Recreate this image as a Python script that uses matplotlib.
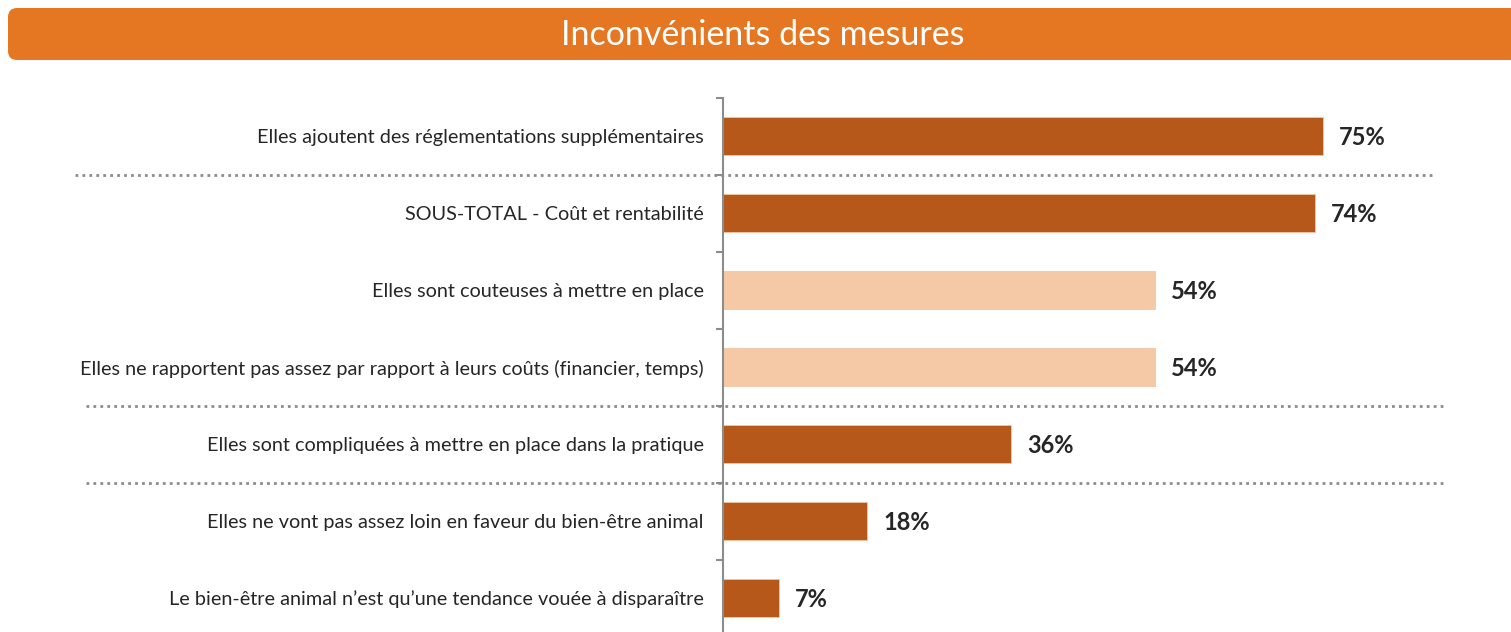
import matplotlib.pyplot as plt
from matplotlib.patches import FancyBboxPatch
import matplotlib.transforms as mtransforms

plt.rcParams['font.family'] = ['Lato', 'DejaVu Sans']

title = "Inconvénients des mesures"
categories = [
    "Elles ajoutent des réglementations supplémentaires",
    "SOUS-TOTAL - Coût et rentabilité",
    "Elles sont couteuses à mettre en place",
    "Elles ne rapportent pas assez par rapport à leurs coûts (financier, temps)",
    "Elles sont compliquées à mettre en place dans la pratique",
    "Elles ne vont pas assez loin en faveur du bien-être animal",
    "Le bien-être animal n\u2019est qu\u2019une tendance vouée à disparaître",
]
values = [75, 74, 54, 54, 36, 18, 7]
is_detail = [False, False, True, True, False, False, False]
separators_after = [0, 3, 4]

DARK = '#B5581A'
LIGHT = '#F5C9A6'
HEADER = '#E67722'
TEXT = '#262626'
GRID = '#8C8C8C'

W, H = 1511, 632
fig = plt.figure(figsize=(W / 100, H / 100), dpi=100)

# header band
hdr = FancyBboxPatch((8 / W, 1 - 60 / H), 1.0, 52 / H,
                     boxstyle="round,pad=0,rounding_size=0.006",
                     transform=fig.transFigure, facecolor=HEADER,
                     edgecolor='none', mutation_aspect=W / H)
fig.patches.append(hdr)
fig.text(763 / W, 1 - 35 / H, title, color='white', fontsize=24.5,
         ha='center', va='center')

# plot area: x scale 8 px per %, rows 77 px tall
left_px, top_px = 723, 97.5
row_px = 77
n = len(categories)
ax = fig.add_axes([left_px / W, 1 - (top_px + n * row_px) / H,
                   (W - left_px) / W, n * row_px / H])
ax.set_xlim(0, (W - left_px) / 8)
ax.set_ylim(n - 0.5, -0.5)

ypos = list(range(n))
colors = [LIGHT if d else DARK for d in is_detail]
ax.barh(ypos, values, height=0.5, color=colors, edgecolor='#F2C7A4',
        linewidth=0.6)

for y, v in zip(ypos, values):
    ax.text(v + 2.0, y + 0.02, f"{v}%", va='center', ha='left', fontsize=17,
            fontweight='bold', color=TEXT)

for s in ['top', 'right', 'bottom']:
    ax.spines[s].set_visible(False)
ax.spines['left'].set_color(GRID)
ax.spines['left'].set_linewidth(1.5)
ax.set_xticks([])
ax.set_yticks([i - 0.5 for i in range(n + 1)])
ax.set_yticklabels([])
ax.tick_params(axis='y', length=5, width=1.5, color=GRID)
ax.set_yticks(ypos, minor=True)
ax.set_yticklabels(categories, minor=True, fontsize=14.3, color=TEXT)
ax.tick_params(axis='y', which='minor', length=0, pad=14)

# dotted separators spanning the label column
trans = mtransforms.blended_transform_factory(fig.transFigure, ax.transData)
for k, i in enumerate(separators_after):
    x0 = 75 if k == 0 else 86
    x1 = 1435 if k == 0 else 1447
    ax.plot([x0 / W, x1 / W], [i + 0.5, i + 0.5], transform=trans,
            color=GRID, linewidth=2, linestyle=(0, (1, 1.5)),
            clip_on=False, zorder=0)

fig.savefig('out.png', dpi=100)
